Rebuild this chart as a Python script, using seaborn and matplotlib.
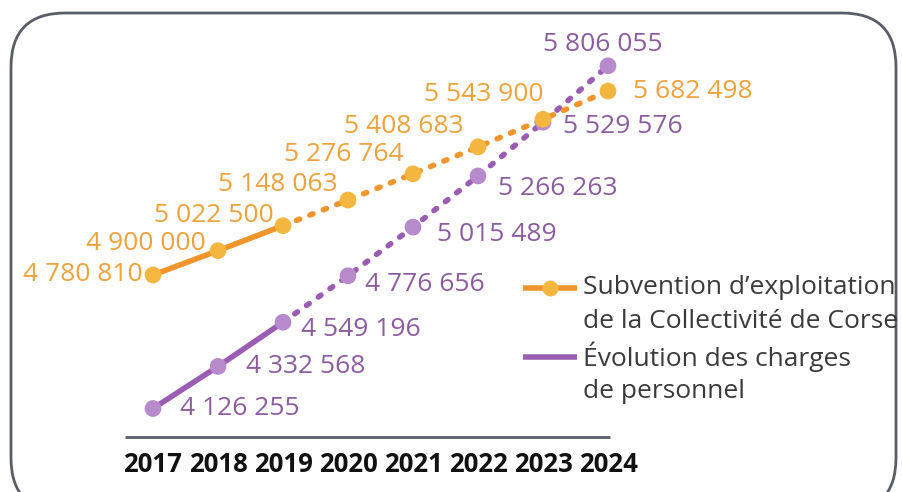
import matplotlib
matplotlib.use("Agg")
import matplotlib.pyplot as plt
import seaborn as sns
import pandas as pd
from matplotlib.patches import FancyBboxPatch
from matplotlib.lines import Line2D
import matplotlib.transforms as mtransforms

years = [2017, 2018, 2019, 2020, 2021, 2022, 2023, 2024]
subvention = [4780810, 4900000, 5022500, 5148063, 5276764, 5408683, 5543900, 5682498]
charges = [4126255, 4332568, 4549196, 4776656, 5015489, 5266263, 5529576, 5806055]
subvention_labels = ["4 780 810", "4 900 000", "5 022 500", "5 148 063",
                     "5 276 764", "5 408 683", "5 543 900", "5 682 498"]
charges_labels = ["4 126 255", "4 332 568", "4 549 196", "4 776 656",
                  "5 015 489", "5 266 263", "5 529 576", "5 806 055"]
legend_sub = ["Subvention d\u2019exploitation", "de la Collectivité de Corse"]
legend_chg = ["Évolution des charges", "de personnel"]
last_actual = 2019

ORANGE_LINE = "#EF952C"
ORANGE_MK = "#F3B740"
ORANGE_TXT = "#EEA23C"
PURPLE_LINE = "#9B5DB3"
PURPLE_MK = "#B78ACB"
PURPLE_TXT = "#8C5CA0"
GREY = "#595D68"

sns.set_theme(style="white")
plt.rcParams["font.family"] = ["Open Sans", "DejaVu Sans"]

W, H = 902, 492
fig = plt.figure(figsize=(W / 100, H / 100), dpi=100)
fig.patch.set_facecolor("white")
ax = fig.add_axes([0, 0, 1, 1])
ax.set_axis_off()

df = pd.DataFrame({"year": years, "sub": subvention, "chg": charges})
solid = df[df.year <= last_actual]
dotted = df[df.year >= last_actual]

lw = 4.0
dots = (0, (0.6, 2.0))
# orange series
sns.lineplot(data=solid, x="year", y="sub", ax=ax, color=ORANGE_LINE, lw=lw,
             solid_capstyle="round", zorder=3)
sns.lineplot(data=dotted, x="year", y="sub", ax=ax, color=ORANGE_LINE, lw=lw,
             linestyle=dots, dash_capstyle="round", zorder=3)
# purple series
sns.lineplot(data=solid, x="year", y="chg", ax=ax, color=PURPLE_LINE, lw=lw,
             solid_capstyle="round", zorder=2)
sns.lineplot(data=dotted, x="year", y="chg", ax=ax, color=PURPLE_LINE, lw=lw,
             linestyle=dots, dash_capstyle="round", zorder=2)
sns.scatterplot(data=df, x="year", y="chg", ax=ax, color=PURPLE_MK, s=145,
                edgecolor="none", zorder=4)
sns.scatterplot(data=df, x="year", y="sub", ax=ax, color=ORANGE_MK, s=145,
                edgecolor="none", zorder=5)

# scale mapping: 2017 at x=153px, 65px/year; value scale ~0.000204 px/unit
px_per_year = 65.0
ax.set_xlim(2017 - 153 / px_per_year, 2017 + (W - 153) / px_per_year)
k = 0.000204
y0px = 408.5
ax.set_ylim(charges[0] - (H - y0px) / k, charges[0] + y0px / k)
ax.set_xlabel("")
ax.set_ylabel("")

fs = 19
sub_off = [(-10, 0, "right"), (-12, 7, "right"), (-9, 10, "right"), (-10, 16, "right"),
           (-9, 19, "right"), (-14, 20, "right"), (0, 25, "right"), (25, 0, "left")]
chg_off = [(27, 0, "left"), (28, 0, "left"), (18, -7, "left"), (17, -9, "left"),
           (24, -7, "left"), (20, -13, "left"), (20, -4, "left"), (-5, 21, "center")]
for x, v, lab, (dx, dy, ha) in zip(years, subvention, subvention_labels, sub_off):
    ax.annotate(lab, (x, v), xytext=(dx, dy), textcoords="offset pixels",
                ha=ha, va="center", fontsize=fs, color=ORANGE_TXT, zorder=6)
for x, v, lab, (dx, dy, ha) in zip(years, charges, charges_labels, chg_off):
    ax.annotate(lab, (x, v), xytext=(dx, dy), textcoords="offset pixels",
                ha=ha, va="center", fontsize=fs, color=PURPLE_TXT, zorder=6)

# year labels under baseline
trans = mtransforms.blended_transform_factory(ax.transData, fig.transFigure)
for x in years:
    ax.text(x, 1 - 465 / H, str(x), transform=trans, ha="center", va="center",
            fontsize=18.5, fontweight="bold", color="#111111")

# baseline
fig.add_artist(Line2D([125 / W, 610 / W], [1 - 437 / H, 1 - 437 / H],
                      color=GREY, lw=2.0, solid_capstyle="butt"))

# legend (manual)
def leg_entry(y_px, color, mk, lines):
    fig.add_artist(Line2D([523 / W, 577 / W], [1 - y_px / H] * 2, color=color,
                          lw=lw, solid_capstyle="butt"))
    if mk:
        fig.add_artist(Line2D([550 / W], [1 - y_px / H], marker="o", color=mk,
                              markersize=11.5, markeredgewidth=0, lw=0))
    for i, t in enumerate(lines):
        fig.text(583 / W, 1 - (y_px + i * 34) / H, t, ha="left", va="center",
                 fontsize=fs, color="#3A3A3A")

leg_entry(288, ORANGE_LINE, ORANGE_MK, legend_sub)
leg_entry(357, PURPLE_LINE, None, legend_chg)

# rounded border
border = FancyBboxPatch((11 / W, -20 / H), (896 - 11) / W, (H - 13 + 20) / H,
                        boxstyle="round,pad=0,rounding_size=0.06",
                        transform=fig.transFigure, fill=False,
                        edgecolor=GREY, lw=2.0, mutation_aspect=W / H)
fig.add_artist(border)

fig.savefig("out.png", dpi=100, facecolor="white")
